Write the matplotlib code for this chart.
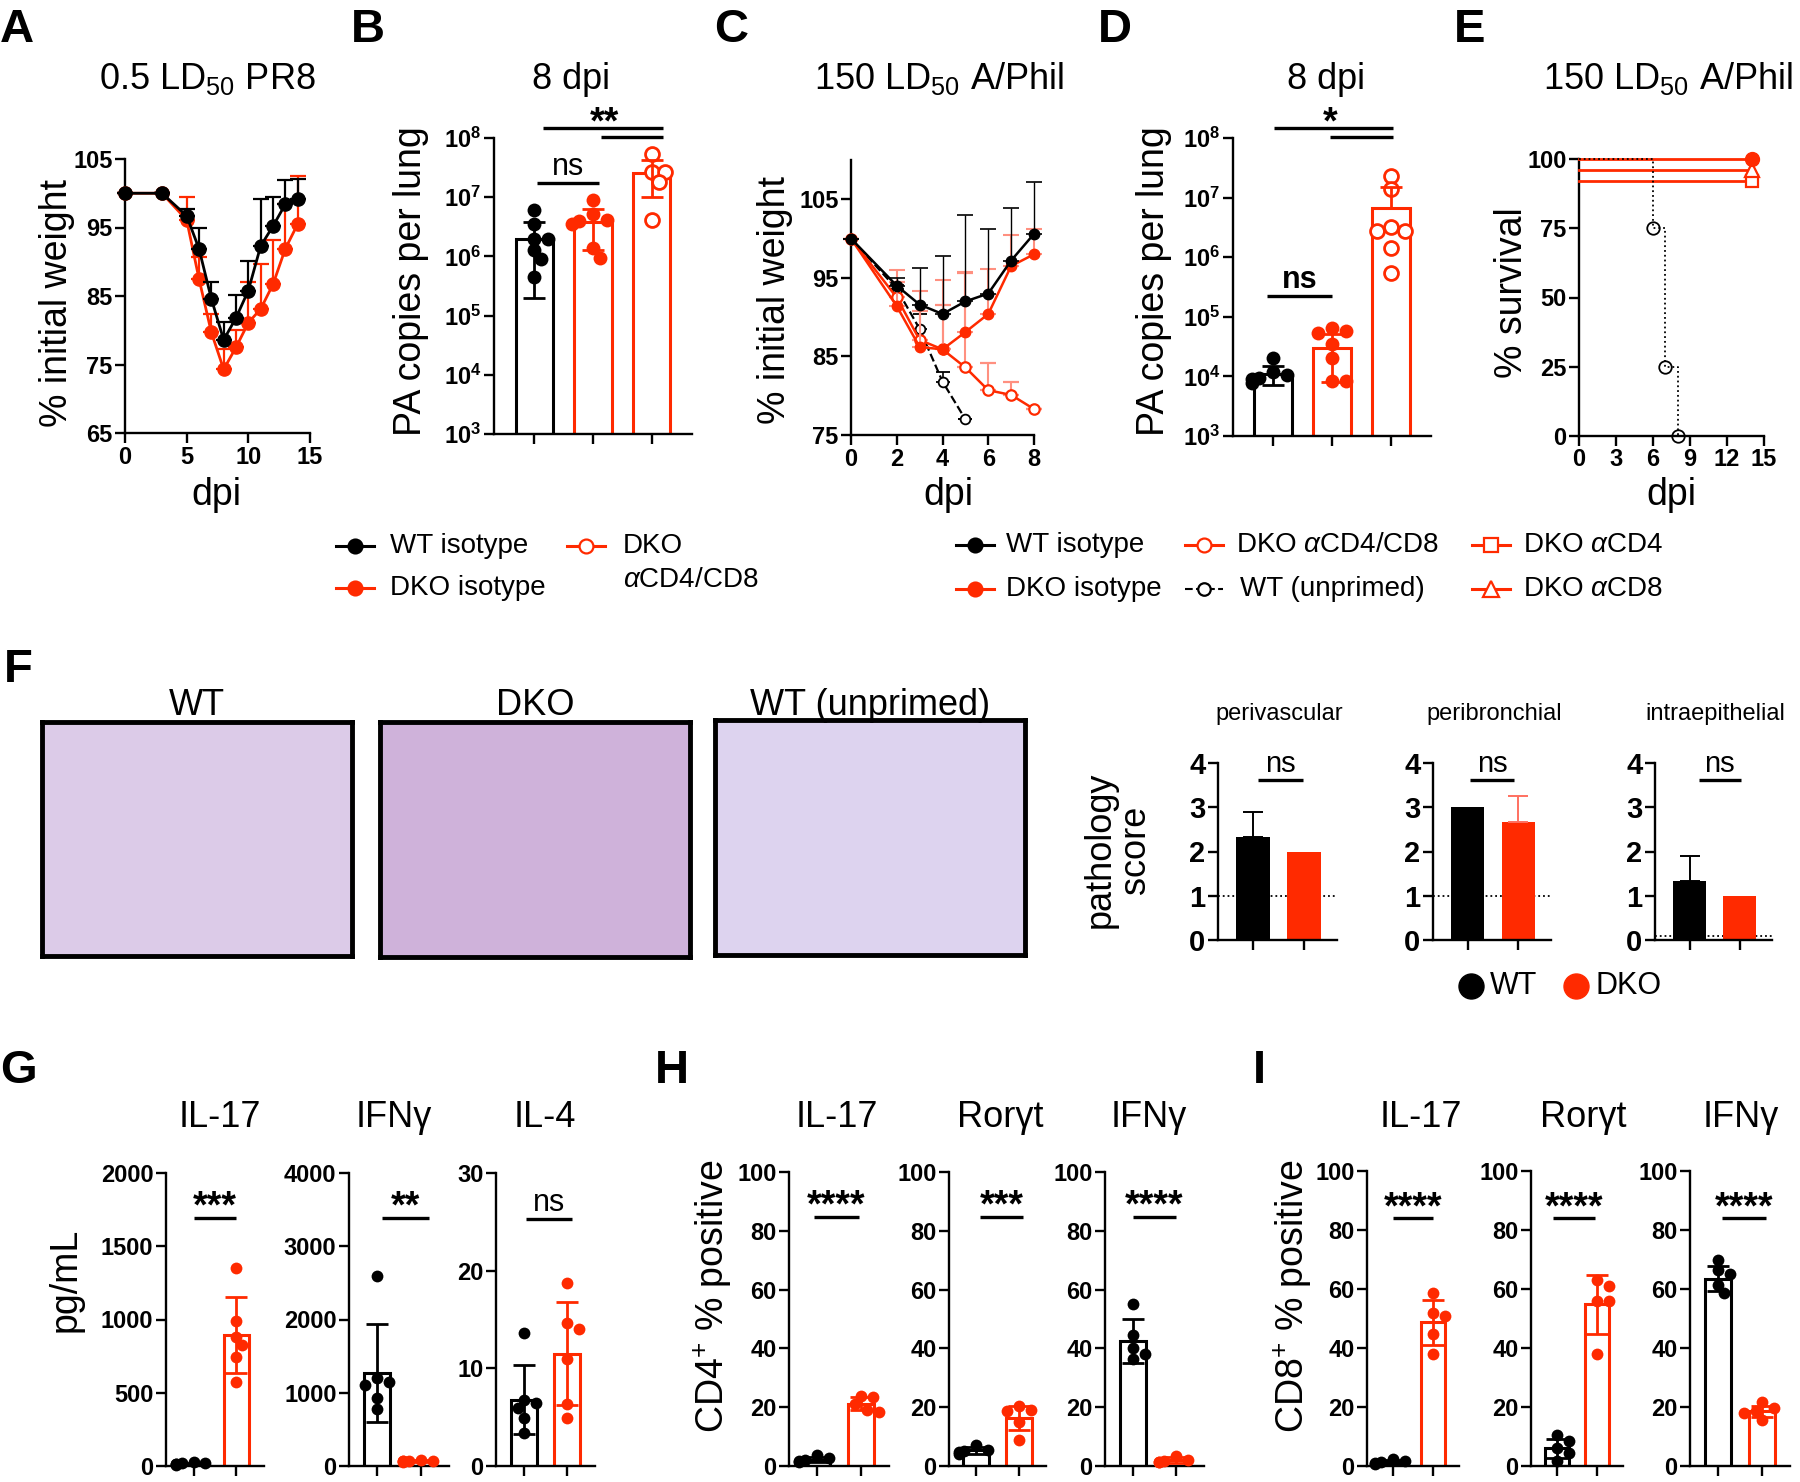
import numpy as np
import matplotlib
matplotlib.use("Agg")
import matplotlib.pyplot as plt
from matplotlib.ticker import NullLocator

plt.rcParams['font.family'] = ['Liberation Sans', 'DejaVu Sans']
plt.rcParams['mathtext.fontset'] = 'custom'
plt.rcParams['mathtext.rm'] = 'Liberation Sans'
plt.rcParams['mathtext.it'] = 'Liberation Sans:italic'
plt.rcParams['mathtext.bf'] = 'Liberation Sans:bold'

RED = '#ff2a00'
LRED = '#ff9080'

# ---------------- data ----------------
# A: 0.5 LD50 PR8 weight curves
A_days = [0, 3, 5, 6, 7, 8, 9, 10, 11, 12, 13, 14]
A_wt = [100, 100, 96.7, 91.9, 84.6, 78.6, 81.8, 85.8, 92.3, 95.2, 98.4, 99.2]
A_wt_err = [0, 0, 1.0, 3.0, 2.4, 2.6, 3.4, 4.3, 6.8, 4.3, 3.6, 2.9]
A_dko = [100, 100, 96.1, 87.5, 79.7, 74.3, 77.5, 81.1, 83.1, 86.7, 91.9, 95.5]
A_dko_err = [0, 0, 3.4, 3.2, 2.6, 2.9, 2.5, 5.9, 6.6, 6.5, 6.6, 7.0]

# B: PA copies per lung, 8 dpi (PR8)
B_wt = [6.0e6, 3.5e6, 2.0e6, 2.0e6, 1.26e6, 8.9e5, 4.5e5]
B_dko = [8.9e6, 5.2e6, 4.2e6, 4.0e6, 3.5e6, 1.4e6, 9.3e5]
B_dep = [5.4e7, 2.7e7, 2.7e7, 1.8e7, 4.1e6]
B_means = [2.0e6, 3.8e6, 2.6e7]
B_sds = [1.8e6, 2.5e6, 1.6e7]

# C: 150 LD50 A/Phil weight curves
C_days = [0, 2, 3, 4, 5, 6, 7, 8]
C_wt = [100, 94.0, 91.6, 90.4, 92.0, 93.0, 97.2, 100.6]
C_wt_err = [0, 1.0, 4.7, 7.4, 11.0, 8.2, 6.7, 6.6]
C_dko = [100, 91.4, 86.2, 85.9, 88.1, 90.4, 96.5, 98.0]
C_dko_err = [0, 4.6, 7.1, 8.8, 7.6, 5.7, 4.0, 3.2]
C_dep = [100, 92.5, 87.1, 85.9, 83.6, 80.7, 80.1, 78.3]
C_dep_err = [0, 2.0, 3.7, 5.7, 12.0, 3.5, 1.7, 0]
C_unp_days = [0, 2, 3, 4, 5]
C_unp = [100, 93.6, 88.5, 81.8, 77.0]
C_unp_err = [0, 0.5, 1.9, 1.2, 0]

# D: PA copies per lung, 8 dpi (A/Phil)
D_wt = [2.0e4, 1.2e4, 1.05e4, 9.5e3, 8.9e3, 7.9e3]
D_dko = [6.6e4, 5.8e4, 5.4e4, 3.5e4, 2.0e4, 8.3e3, 8.3e3]
D_dep = [2.3e7, 1.4e7, 3.2e6, 2.8e6, 2.8e6, 1.4e6, 5.5e5]
D_means = [1.1e4, 3.0e4, 6.6e6]
D_sds = [3.7e3, 2.2e4, 8.2e6]

# E: survival
E_t = [0, 14]
E_dko_iso = [100, 100]
E_cd8 = [96, 96]
E_cd4 = [92, 92]
E_unp_t = [0, 6, 7, 8]
E_unp = [100, 75, 25, 0]

# F: pathology scores
path_names = ['perivascular', 'peribronchial', 'intraepithelial']
path_wt = [2.33, 3.0, 1.33]
path_wt_err = [0.57, 0.0, 0.57]
path_dko = [2.0, 2.67, 1.0]
path_dko_err = [0.0, 0.58, 0.0]
path_base = [1.0, 1.0, 0.1]
hist_names = ['WT', 'DKO', 'WT (unprimed)']

# G: cytokines (pg/mL)
G_names = ['IL-17', 'IFN\u03b3', 'IL-4']
G_wt = [[15, 20, 10, 25, 18, 12], [2590, 1200, 1150, 1100, 930, 775], [13.6, 6.8, 6.5, 5.9, 4.9, 3.4]]
G_dko = [[1350, 992, 880, 824, 746, 573], [60, 70, 80, 75, 65, 70], [18.7, 14.6, 14.0, 11.0, 6.3, 4.9]]
G_wt_mean = [17, 1268, 6.8]
G_wt_sd = [5, 672, 3.5]
G_dko_mean = [894, 70, 11.5]
G_dko_sd = [262, 10, 5.3]
G_sig = ['***', '**', 'ns']

# H: CD4+ % positive
H_names = ['IL-17', 'Ror\u03b3t', 'IFN\u03b3']
H_wt = [[3.7, 2.6, 2.2, 1.8, 1.2], [7.0, 5.5, 5.0, 4.6, 4.2], [55, 44.5, 40, 38, 36.5]]
H_dko = [[23.8, 23.5, 21.0, 19.0, 18.5], [20.4, 19.0, 18.6, 14.8, 8.7], [3.5, 2.2, 1.8, 1.5, 1.2]]
H_wt_mean = [2.2, 5.3, 42.5]
H_wt_sd = [1.0, 1.1, 7.5]
H_dko_mean = [21.2, 16.3, 2.0]
H_dko_sd = [2.2, 4.0, 0.9]
H_sig = ['****', '***', '****']

# I: CD8+ % positive
I_names = ['IL-17', 'Ror\u03b3t', 'IFN\u03b3']
I_wt = [[2.5, 1.8, 1.2, 1.0, 0.8], [10.6, 8.4, 6.2, 4.5, 1.7], [69.7, 66.3, 65.2, 61.3, 58.5]]
I_dko = [[58.5, 52.0, 50.7, 44.6, 37.9], [63, 61, 56, 56, 38], [21.7, 19.5, 18.6, 18.0, 15.6]]
I_wt_mean = [1.4, 6.0, 63.5]
I_wt_sd = [0.7, 3.2, 4.2]
I_dko_mean = [48.7, 54.8, 18.5]
I_dko_sd = [7.7, 9.9, 2.0]
I_sig = ['****', '****', '****']

# ---------------- figure helpers ----------------
W, H = 1800, 1482
fig = plt.figure(figsize=(W / 100, H / 100), dpi=100)

TICK = 17
LAB = 27
TITLE = 26
LETTER = 34
LEG = 20


def px_axes(l, t, r, b):
    ax = fig.add_axes([l / W, 1 - b / H, (r - l) / W, (b - t) / H])
    # hide the empty label / title / offset texts that every axes carries
    ax.xaxis.label.set_visible(False)
    ax.yaxis.label.set_visible(False)
    ax.xaxis.get_offset_text().set_visible(False)
    ax.yaxis.get_offset_text().set_visible(False)
    for t_ in (ax.title, ax._left_title, ax._right_title):
        t_.set_visible(False)
    return ax


def style(ax, tick=TICK):
    for s in ['top', 'right']:
        ax.spines[s].set_visible(False)
    for s in ['left', 'bottom']:
        ax.spines[s].set_linewidth(1.7)
    ax.tick_params(direction='out', width=1.7, length=7, labelsize=tick, pad=2)
    ax.patch.set_alpha(0)


def bold_ticks(ax):
    for t in ax.get_xticklabels() + ax.get_yticklabels():
        t.set_fontweight('bold')


def noclip(cont):
    cont[0].set_clip_on(False)
    for c in cont[1]:
        c.set_clip_on(False)
    for b in cont[2]:
        b.set_clip_on(False)


def swarm_x(ax, xc, vals, ms):
    d = ms * fig.dpi / 72.0
    tr = ax.transData
    ppx = tr.transform((xc + 1, vals[0]))[0] - tr.transform((xc, vals[0]))[0]
    placed = []
    out = [xc] * len(vals)
    order = sorted(range(len(vals)), key=lambda i: -vals[i])
    for i in order:
        yp = tr.transform((xc, vals[i]))[1]
        cx = 0
        for k in [0, 1, -1, 2, -2, 3, -3]:
            cx = k * d * 0.5
            if all((cx - a) ** 2 + (yp - b) ** 2 >= (0.8 * d) ** 2 for a, b in placed):
                break
        placed.append((cx, yp))
        out[i] = xc + cx / ppx
    return out


def scatter_bar(ax, xc, mean, sd, vals, color, filled=True, ms=8.5, width=0.6, bottom=0):
    ax.bar(xc, mean - bottom, bottom=bottom, width=width, facecolor='white',
           edgecolor=color, linewidth=2.2, zorder=2)
    xs = swarm_x(ax, xc, vals, ms)
    if filled:
        ax.plot(xs, vals, 'o', ms=ms, mfc=color, mec=color, mew=0, zorder=3, clip_on=False)
    else:
        ax.plot(xs, vals, 'o', ms=ms, mfc='white', mec=color, mew=2, zorder=3, clip_on=False)
    lo = sd if mean - sd > bottom else 0
    ax.errorbar([xc], [mean], yerr=[[lo], [sd]], fmt='none', ecolor=color,
                elinewidth=2, capsize=8, capthick=2, zorder=4)


def sig(ax, x1, x2, y, text, dy=0, size=None, weight='normal'):
    ax.plot([x1, x2], [y, y], color='k', lw=2.4, clip_on=False, solid_capstyle='butt')
    if text:
        if size is None:
            size = 27 if '*' in text else 22
        ax.annotate(text, xy=((x1 + x2) / 2, y), xytext=(0, dy), textcoords='offset points',
                    ha='center', va='baseline', fontsize=size, fontweight=weight,
                    annotation_clip=False)


log_labels = [r'$\mathbf{10^{%d}}$' % e for e in range(3, 9)]

# ---------------- A ----------------
axA = px_axes(125, 159, 310, 433)
style(axA)
axA.set_xlim(0, 15)
axA.set_ylim(65, 105)
axA.set_xticks([0, 5, 10, 15])
axA.set_yticks([65, 75, 85, 95, 105])
bold_ticks(axA)
c = axA.errorbar(A_days, A_dko, yerr=[np.zeros(len(A_days)), A_dko_err], color=RED,
                 marker='o', ms=9.5, lw=2, elinewidth=1.6, capsize=6, capthick=1.6, zorder=3)
noclip(c)
c = axA.errorbar(A_days, A_wt, yerr=[np.zeros(len(A_days)), A_wt_err], color='k',
                 marker='o', ms=9.5, lw=2, elinewidth=1.6, capsize=6, capthick=1.6, zorder=4)
noclip(c)

# ---------------- B ----------------
axB = px_axes(494, 138, 692, 434)
style(axB)
axB.set_yscale('log')
axB.set_ylim(1e3, 1e8)
axB.set_xlim(-0.69, 2.69)
axB.set_yticks([10.0 ** e for e in range(3, 9)])
axB.set_yticklabels(log_labels)
axB.yaxis.set_minor_locator(NullLocator())
axB.set_xticks([0, 1, 2])
axB.tick_params(labelbottom=False)
scatter_bar(axB, 0, B_means[0], B_sds[0], B_wt, 'k', ms=10, width=0.64, bottom=1e3)
scatter_bar(axB, 1, B_means[1], B_sds[1], B_dko, RED, ms=10, width=0.64, bottom=1e3)
scatter_bar(axB, 2, B_means[2], B_sds[2], B_dep, RED, filled=False, ms=10, width=0.64, bottom=1e3)
sig(axB, 0.05, 1.1, 10 ** 7.24, 'ns', dy=6)
sig(axB, 0.14, 2.2, 10 ** 8.17, '')
sig(axB, 1.14, 2.2, 10 ** 8.02, '')
axB.annotate('**', xy=(1.19, 10 ** 8.17), xytext=(0, -4), textcoords='offset points',
             ha='center', va='baseline', fontsize=27, fontweight='bold', annotation_clip=False)

# ---------------- C ----------------
axC = px_axes(851, 160, 1034, 435)
style(axC)
axC.set_xlim(0, 8)
axC.set_ylim(75, 110)
axC.set_xticks([0, 2, 4, 6, 8])
axC.set_yticks([75, 85, 95, 105])
bold_ticks(axC)
c = axC.errorbar(C_unp_days, C_unp, yerr=[np.zeros(len(C_unp)), C_unp_err], color='k',
                 ls='--', marker='o', ms=7, mfc='white', mew=1.3, lw=1.6,
                 elinewidth=1.2, capsize=5, capthick=1.2, zorder=3)
noclip(c)
c = axC.errorbar(C_days, C_dep, yerr=[np.zeros(len(C_days)), C_dep_err], color=RED,
                 ecolor=LRED, marker='o', ms=7.5, mfc='white', mew=1.6, lw=1.8,
                 elinewidth=1.5, capsize=6, capthick=1.5, zorder=3)
noclip(c)
c = axC.errorbar(C_days, C_dko, yerr=[np.zeros(len(C_days)), C_dko_err], color=RED,
                 ecolor=LRED, marker='o', ms=7.5, lw=1.8,
                 elinewidth=1.5, capsize=6, capthick=1.5, zorder=4)
noclip(c)
c = axC.errorbar(C_days, C_wt, yerr=[np.zeros(len(C_days)), C_wt_err], color='k',
                 marker='o', ms=7.5, lw=1.8, elinewidth=1.0, capsize=6, capthick=1.2, zorder=5)
noclip(c)

# ---------------- D ----------------
axD = px_axes(1233, 138, 1431, 436)
style(axD)
axD.set_yscale('log')
axD.set_ylim(1e3, 1e8)
axD.set_xlim(-0.67, 2.67)
axD.set_yticks([10.0 ** e for e in range(3, 9)])
axD.set_yticklabels(log_labels)
axD.yaxis.set_minor_locator(NullLocator())
axD.set_xticks([0, 1, 2])
axD.tick_params(labelbottom=False)
scatter_bar(axD, 0, D_means[0], D_sds[0], D_wt, 'k', ms=10, width=0.64, bottom=1e3)
scatter_bar(axD, 1, D_means[1], D_sds[1], D_dko, RED, ms=10, width=0.64, bottom=1e3)
scatter_bar(axD, 2, D_means[2], D_sds[2], D_dep, RED, filled=False, ms=10, width=0.64, bottom=1e3)
sig(axD, -0.1, 1.0, 10 ** 5.35, 'ns', dy=6, size=22, weight='bold')
sig(axD, 0.02, 2.03, 10 ** 8.17, '')
sig(axD, 0.97, 2.03, 10 ** 8.01, '')
axD.annotate('*', xy=(0.97, 10 ** 8.17), xytext=(0, -4), textcoords='offset points',
             ha='center', va='baseline', fontsize=27, fontweight='bold', annotation_clip=False)

# ---------------- E ----------------
axE = px_axes(1579, 159, 1764, 436)
style(axE)
axE.set_xlim(0, 15)
axE.set_ylim(0, 100)
axE.set_xticks([0, 3, 6, 9, 12, 15])
axE.set_yticks([0, 25, 50, 75, 100])
bold_ticks(axE)
axE.plot(E_t, E_cd4, color=RED, lw=2, marker='s', ms=9, mfc='white', mew=1.6,
         markevery=[1], clip_on=False, zorder=3)
axE.plot(E_t, E_cd8, color=RED, lw=2, marker='^', ms=10, mfc='white', mew=1.6,
         markevery=[1], clip_on=False, zorder=3)
axE.plot(E_t, E_dko_iso, color=RED, lw=2, marker='o', ms=10, markevery=[1],
         clip_on=False, zorder=4)
axE.plot(E_unp_t, E_unp, color='k', ls=':', lw=1.3, drawstyle='steps-post', marker='o',
         ms=9, mfc='none', mew=1.3, markevery=[1, 2, 3], clip_on=False, zorder=5)

# ---------------- F: histology frames ----------------
hist_boxes = [(42, 722, 352, 956), (380, 722, 690, 957), (715, 720, 1025, 955)]
hist_tints = ['#dccbe8', '#cfb2da', '#ddd3ef']
for (l, t, r, b), tint in zip(hist_boxes, hist_tints):
    axh = px_axes(l, t, r, b)
    axh.set_facecolor(tint)
    axh.set_xticks([])
    axh.set_yticks([])
    for s in axh.spines.values():
        s.set_linewidth(3.5)

# ---------------- F: pathology ----------------
path_x = [(1218, 1337), (1433, 1551), (1655, 1772)]
path_sig = [(0.1, 0.98), (0.04, 0.92), (0.18, 1.02)]
for i, (l, r) in enumerate(path_x):
    ax = px_axes(l, 763, r, 940)
    style(ax, tick=21)
    ax.set_xlim(-0.69, 1.65)
    ax.set_ylim(0, 4)
    ax.set_yticks([0, 1, 2, 3, 4])
    ax.set_xticks([0, 1])
    ax.tick_params(labelbottom=False)
    bold_ticks(ax)
    ax.axhline(path_base[i], color='k', ls=':', lw=1.3, zorder=1)
    ax.bar(0, path_wt[i], width=0.66, color='k', zorder=2)
    ax.bar(1, path_dko[i], width=0.66, color=RED, zorder=2)
    if path_wt_err[i] > 0:
        ax.errorbar([0], [path_wt[i]], yerr=[[0], [path_wt_err[i]]], fmt='none',
                    ecolor='k', elinewidth=1.4, capsize=7, capthick=1.4, zorder=3)
    if path_dko_err[i] > 0:
        ax.errorbar([1], [path_dko[i]], yerr=[[0], [path_dko_err[i]]], fmt='none',
                    ecolor='#ff7060', elinewidth=1.4, capsize=7, capthick=1.4, zorder=3)
    sig(ax, path_sig[i][0], path_sig[i][1], 3.61, 'ns', dy=6, size=21)

# ---------------- G / H / I ----------------
def bar_row(xr, top, bottom, names, wt, dko, wtm, wts, dkm, dks, sigs, ylims, yticks, sigy, sigx):
    axes = []
    for i, (l, r) in enumerate(xr):
        ax = px_axes(l, top, r, bottom)
        style(ax)
        ax.set_xlim(-0.64, 1.64)
        ax.set_ylim(0, ylims[i])
        ax.set_yticks(yticks[i])
        ax.set_xticks([0, 1])
        ax.tick_params(labelbottom=False)
        bold_ticks(ax)
        scatter_bar(ax, 0, wtm[i], wts[i], wt[i], 'k')
        scatter_bar(ax, 1, dkm[i], dks[i], dko[i], RED)
        dy = 6 if sigs[i] == 'ns' else 0
        sig(ax, sigx[i][0], sigx[i][1], sigy[i], sigs[i], dy=dy,
            weight='normal' if sigs[i] == 'ns' else 'bold')
        axes.append(ax)
    return axes


ROW_BOTTOM = 1466
bar_row([(166, 264), (349, 449), (496, 595)], 1173, ROW_BOTTOM, G_names, G_wt, G_dko,
        G_wt_mean, G_wt_sd, G_dko_mean, G_dko_sd, G_sig, [2000, 4000, 30],
        [[0, 500, 1000, 1500, 2000], [0, 1000, 2000, 3000, 4000], [0, 10, 20, 30]],
        [1693, 3387, 25.3], [(0, 1.0), (0.12, 1.19), (0.05, 1.1)])
pct_ticks = [0, 20, 40, 60, 80, 100]
bar_row([(789, 889), (949, 1046), (1105, 1204)], 1172, ROW_BOTTOM, H_names, H_wt, H_dko,
        H_wt_mean, H_wt_sd, H_dko_mean, H_dko_sd, H_sig, [100, 100, 100],
        [pct_ticks] * 3, [84.8, 84.8, 84.8], [(-0.07, 0.95), (0.09, 1.1), (0, 1.0)])
bar_row([(1367, 1459), (1531, 1623), (1690, 1790)], 1171, ROW_BOTTOM, I_names, I_wt, I_dko,
        I_wt_mean, I_wt_sd, I_dko_mean, I_dko_sd, I_sig, [100, 100, 100],
        [pct_ticks] * 3, [84, 84, 84], [(0, 1.0), (-0.1, 0.95), (0.1, 1.1)])

# ---------------- overlay text / legends ----------------
ov = px_axes(0, 0, W, H)
ov.set_xlim(0, W)
ov.set_ylim(H, 0)
ov.axis('off')

letters = [('A', 0, 42), ('B', 351, 42), ('C', 714, 42), ('D', 1098, 42), ('E', 1454, 42),
           ('F', 4, 682), ('G', 0, 1083), ('H', 655, 1083), ('I', 1253, 1083)]
for s, x, y in letters:
    ov.text(x, y, s, fontsize=LETTER, fontweight='bold', ha='left', va='baseline')

ov.text(207, 89, r'0.5 LD$_\mathregular{50}$ PR8', fontsize=TITLE, ha='center', va='baseline')
ov.text(571, 89, '8 dpi', fontsize=TITLE, ha='center', va='baseline')
ov.text(939, 89, r'150 LD$_\mathregular{50}$ A/Phil', fontsize=TITLE, ha='center', va='baseline')
ov.text(1326, 89, '8 dpi', fontsize=TITLE, ha='center', va='baseline')
ov.text(1543, 89, r'150 LD$_\mathregular{50}$ A/Phil', fontsize=TITLE, ha='left', va='baseline')

for x, y, s in [(57, 303, '% initial weight'), (411, 281, 'PA copies per lung'),
                (775, 300, '% initial weight'), (1154, 281, 'PA copies per lung'),
                (1512, 293, '% survival')]:
    ov.text(x, y, s, fontsize=LAB, rotation=90, ha='center', va='center')
for x in [216, 948, 1671]:
    ov.text(x, 495, 'dpi', fontsize=LAB, ha='center', va='center')

# legend for A/B
def leg_item(x, y, color, marker, filled=True, ls='-', lw=2.2, ms=10):
    ov.plot([x - 19, x + 19], [y, y], color=color, ls=ls, lw=lw)
    ov.plot([x], [y], marker=marker, ms=ms, color=color,
            mfc=color if filled else 'white', mew=1.6)


leg_item(355, 546, 'k', 'o')
ov.text(390, 546, 'WT isotype', fontsize=LEG, va='center')
leg_item(355, 588, RED, 'o')
ov.text(390, 588, 'DKO isotype', fontsize=LEG, va='center')
leg_item(586, 546, RED, 'o', filled=False)
ov.text(623, 546, 'DKO', fontsize=LEG, va='center')
ov.text(623, 580, r'$\alpha$CD4/CD8', fontsize=LEG, va='center')

# legend for C/D/E
leg_item(975, 545, 'k', 'o')
ov.text(1006, 545, 'WT isotype', fontsize=LEG, va='center')
leg_item(975, 589, RED, 'o')
ov.text(1006, 589, 'DKO isotype', fontsize=LEG, va='center')
leg_item(1204, 545, RED, 'o', filled=False)
ov.text(1236, 545, r'DKO $\alpha$CD4/CD8', fontsize=LEG, va='center')
leg_item(1204, 589, 'k', 'o', filled=False, ls='--', lw=1.5, ms=9)
ov.text(1240, 589, 'WT (unprimed)', fontsize=LEG, va='center')
leg_item(1491, 545, RED, 's', filled=False)
ov.text(1523, 545, r'DKO $\alpha$CD4', fontsize=LEG, va='center')
leg_item(1491, 589, RED, '^', filled=False, ms=11)
ov.text(1523, 589, r'DKO $\alpha$CD8', fontsize=LEG, va='center')

# F texts
for (l, t, r, b), s in zip(hist_boxes, hist_names):
    ov.text((l + r) / 2, 715, s, fontsize=TITLE, ha='center', va='baseline')
for (l, r), s in zip(path_x, path_names):
    ov.text((l + r) / 2 + 2, 720, s, fontsize=17, ha='center', va='baseline')
ov.text(1118, 850, 'pathology\nscore', fontsize=26, rotation=90, ha='center', va='center',
        linespacing=1.0)
ov.plot([1471], [986], 'o', ms=18, color='k')
ov.text(1490, 986, 'WT', fontsize=22, va='center')
ov.plot([1576], [986], 'o', ms=18, color=RED)
ov.text(1596, 986, 'DKO', fontsize=22, va='center')

# G/H/I titles and labels
for x, s in zip([220, 394, 545], G_names):
    ov.text(x, 1127, s, fontsize=TITLE, ha='center', va='baseline')
for x, s in zip([837, 1000, 1149], H_names):
    ov.text(x, 1127, s, fontsize=TITLE, ha='center', va='baseline')
for x, s in zip([1421, 1583, 1741], I_names):
    ov.text(x, 1127, s, fontsize=TITLE, ha='center', va='baseline')
ov.text(66, 1280, 'pg/mL', fontsize=LAB, rotation=90, ha='center', va='center')
ov.text(713, 1296, r'CD4$^\mathregular{+}$ % positive', fontsize=LAB, rotation=90,
        ha='center', va='center')
ov.text(1293, 1296, r'CD8$^\mathregular{+}$ % positive', fontsize=LAB, rotation=90,
        ha='center', va='center')

fig.savefig('out.png', dpi=100)
